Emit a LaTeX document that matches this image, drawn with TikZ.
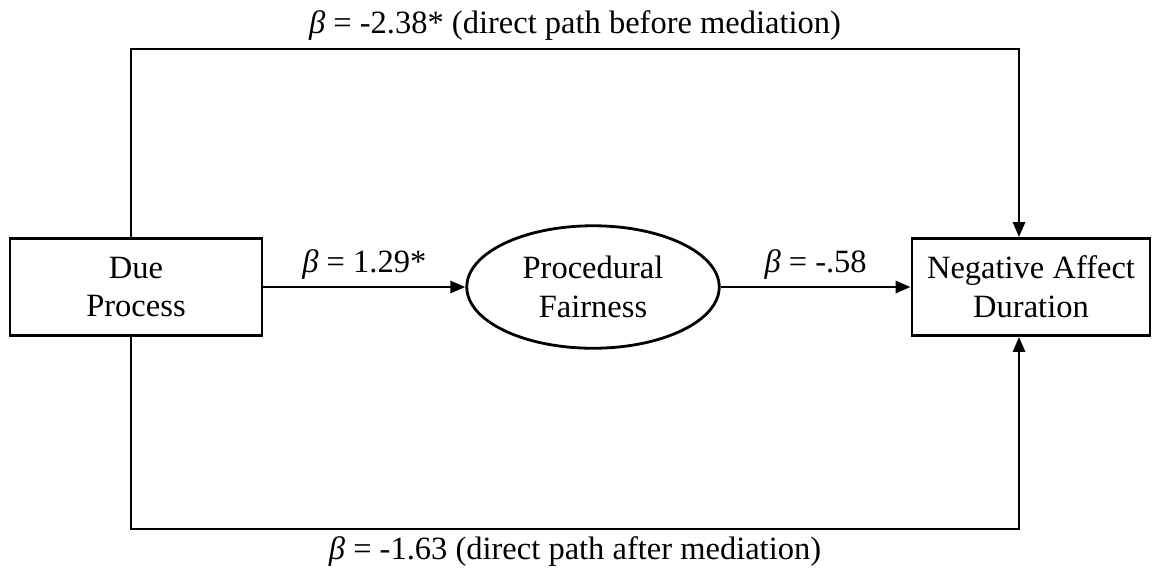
\documentclass[tikz,border=0pt]{standalone}
\usepackage{fontspec}
\setmainfont{Liberation Serif}
\usepackage{tikz}
\usetikzlibrary{shapes.geometric,arrows.meta}

\tikzset{
  varbox/.style={draw, line width=1.6pt, rectangle, minimum height=1.94cm, align=center, inner sep=2pt},
  medell/.style={draw, line width=1.6pt, ellipse, minimum width=5.05cm, minimum height=2.45cm, inner sep=0pt, align=center},
  effect/.style={line width=1.6pt, -{Triangle[length=3mm, width=2.4mm]}},
  coef/.style={font=\fontsize{18.5}{22}\selectfont}
}

\begin{document}
\begin{tikzpicture}[x=0.02cm, y=-0.02cm, font=\fontsize{18.5}{22}\selectfont]
  \useasboundingbox (0,0) rectangle (1152,576);
  % variables
  \node[varbox, minimum width=5.04cm] (dp) at (136,287) {Due\\Process};
  \node[medell] (pf) at (593,287) {Procedural\\Fairness};
  \node[varbox, minimum width=4.76cm] (nad) at (1031,287) {Negative Affect\\Duration};
  % corners of the direct paths
  \coordinate (tl) at (131,49);
  \coordinate (tr) at (1019,49);
  \coordinate (bl) at (131,529);
  \coordinate (br) at (1019,529);
  % mediated path
  \draw[effect] (dp) -- node[coef, above] {\textit{β} = 1.29*} (pf);
  \draw[effect] (pf) -- node[coef, above] {\textit{β} = -.58} (nad);
  % direct paths
  \draw[effect] (dp.north -| tl) -- (tl) -- node[coef, above, yshift=1pt] {\textit{β} = -2.38* (direct path before mediation)} (tr) -- (nad.north -| tr);
  \draw[effect] (dp.south -| bl) -- (bl) -- node[coef, below] {\textit{β} = -1.63 (direct path after mediation)} (br) -- (nad.south -| br);
\end{tikzpicture}
\end{document}
